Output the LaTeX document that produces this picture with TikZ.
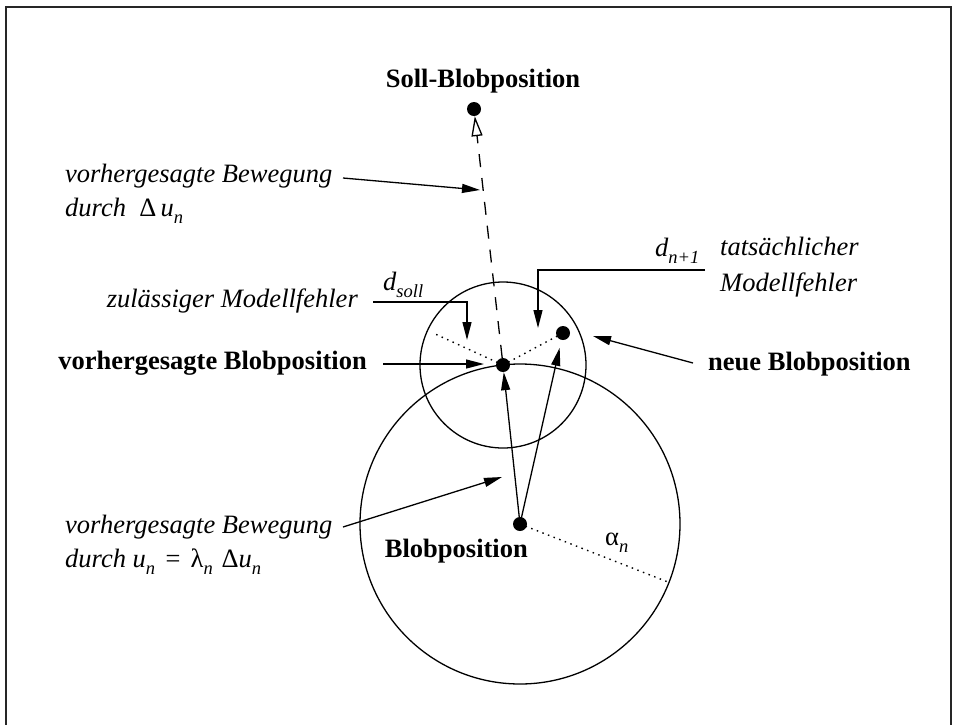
\documentclass[tikz,border=0pt]{standalone}
\usepackage{fontspec}
\setmainfont{Liberation Serif}
\usetikzlibrary{arrows.meta}
\newcommand{\subx}[1]{\raisebox{-0.3em}{\fontsize{18.5}{20}\selectfont\itshape #1}}
\begin{document}
\begin{tikzpicture}[x=1pt,y=-1pt,
  txt/.style={inner sep=0pt, font=\fontsize{26.5}{32}\selectfont\itshape},
  btxt/.style={inner sep=0pt, font=\fontsize{26.5}{32}\selectfont\bfseries},
  utxt/.style={inner sep=0pt, font=\fontsize{26.5}{32}\selectfont},
  blob/.style={circle, fill=black, inner sep=0pt, minimum size=14pt},
  ln/.style={line width=1.3pt},
  arr/.style={ln, -{Triangle[length=18pt,width=9pt]}},
  oarr/.style={line width=1.3pt, dash pattern=on 13pt off 11pt, -{Triangle[open,length=20pt,width=11pt]}},
  dotln/.style={line width=1.4pt, dash pattern=on 1.5pt off 4.5pt}]
\useasboundingbox (0,0) rectangle (954,724);
\draw[line width=1.5pt, black!85] (6,740) -- (6,7) -- (951,7) -- (951,740);

% points
\node[blob] (soll) at (474,109) {};
\node[blob] (vb) at (503,365) {};
\node[blob] (nb) at (563,333) {};
\node[blob] (bp) at (520,524) {};

% circles
\draw[ln] (vb.center) circle[radius=83pt];
\draw[ln] (bp.center) circle[radius=160pt];

% texts
\node[btxt, anchor=base] (sollt) at (483,87) {Soll-Blobposition};
\node[txt, anchor=base west] (t1a) at (65,182) {vorhergesagte Bewegung};
\node[txt, anchor=base west] (t1b) at (65,216) {durch~~{\upshape Δ}\,u\subx{n}};
\node[txt, anchor=base east] (t2) at (358,307) {zulässiger Modellfehler};
\node[txt, anchor=base west] (dsoll) at (383,290) {d\subx{soll}};
\node[btxt, anchor=base east] (t3) at (367,369) {vorhergesagte Blobposition};
\node[btxt, anchor=base west] (t4) at (708,370) {neue Blobposition};
\node[txt, anchor=base west] (dn) at (655,256) {d\subx{n+1}};
\node[txt, anchor=base west] (t5a) at (720,255) {tatsächlicher};
\node[txt, anchor=base west] (t5b) at (720,291) {Modellfehler};
\node[btxt, anchor=base east] (t6) at (528,557) {Blobposition};
\node[txt, anchor=base west] (t7a) at (65,533) {vorhergesagte Bewegung};
\node[txt, anchor=base west] (t7b) at (65,567) {durch u\subx{n}\,\,=\,\,{\upshape λ}\subx{n}\,\,{\upshape Δ}u\subx{n}};
\node[utxt, anchor=base west] (al) at (605,545) {α\subx{n}};

% dotted lines
\coordinate (dl) at (433,333);
\coordinate (ae) at (668,582);
\draw[dotln] (vb.center) -- (dl);
\draw[dotln] (vb.center) -- (nb.center);
\draw[dotln] (bp.center) -- (ae);

% motion arrows
\draw[oarr] (vb) -- (soll);
\draw[arr] (bp.center) -- (vb);
\draw[arr, shorten >=8pt] (bp.center) -- (nb);

% label arrows
\coordinate (a1s) at (343,178); \coordinate (a1e) at (480,190);
\draw[arr] (a1s) -- (a1e);
\coordinate (a2s) at (373,302); \coordinate (a2c) at (467,302); \coordinate (a2e) at (467,340);
\draw[arr] (a2s) -- (a2c) -- (a2e);
\coordinate (a3s) at (383,364); \coordinate (a3e) at (484,364);
\draw[arr] (a3s) -- (a3e);
\coordinate (a4s) at (705,270); \coordinate (a4c) at (538,270); \coordinate (a4e) at (538,328);
\draw[arr] (a4s) -- (a4c) -- (a4e);
\coordinate (a5s) at (693,363); \coordinate (a5e) at (593,336);
\draw[arr] (a5s) -- (a5e);
\coordinate (a6s) at (343,527); \coordinate (a6e) at (502,477);
\draw[arr] (a6s) -- (a6e);
\end{tikzpicture}
\end{document}
